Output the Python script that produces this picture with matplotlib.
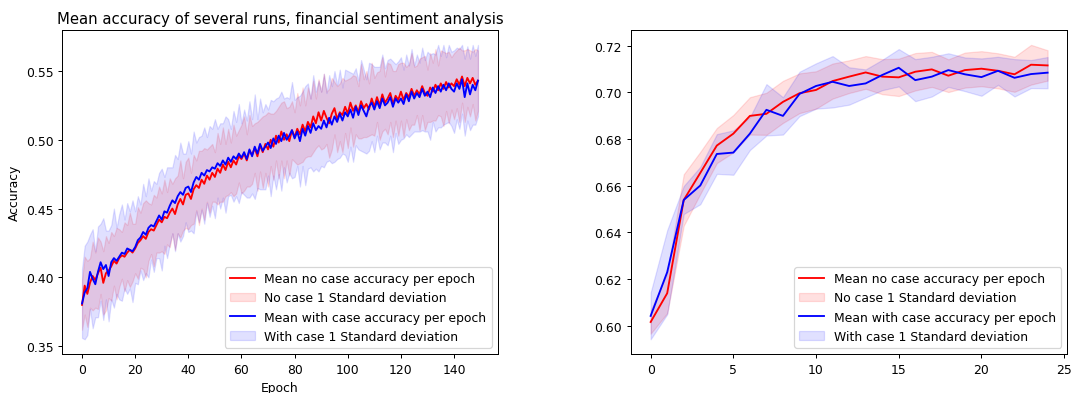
import matplotlib
matplotlib.use("Agg")
from matplotlib import pyplot as plt
import numpy as np

# left panel: 150 epochs
no_case_mean = [
    0.380, 0.394, 0.388, 0.396, 0.401, 0.398, 0.403, 0.407, 0.396, 0.403,
    0.405, 0.408, 0.412, 0.410, 0.414, 0.416, 0.415, 0.418, 0.420, 0.418,
    0.421, 0.425, 0.427, 0.430, 0.428, 0.433, 0.435, 0.434, 0.438, 0.442,
    0.440, 0.444, 0.443, 0.447, 0.450, 0.446, 0.453, 0.457, 0.453, 0.460,
    0.461, 0.457, 0.464, 0.467, 0.465, 0.471, 0.468, 0.474, 0.471, 0.476,
    0.473, 0.479, 0.476, 0.482, 0.478, 0.484, 0.480, 0.485, 0.482, 0.488,
    0.486, 0.490, 0.485, 0.492, 0.489, 0.494, 0.488, 0.496, 0.491, 0.497,
    0.493, 0.500, 0.495, 0.503, 0.498, 0.506, 0.500, 0.504, 0.499, 0.507,
    0.502, 0.508, 0.504, 0.511, 0.506, 0.513, 0.509, 0.517, 0.512, 0.520,
    0.514, 0.521, 0.516, 0.512, 0.519, 0.523, 0.515, 0.520, 0.518, 0.524,
    0.519, 0.527, 0.521, 0.525, 0.520, 0.528, 0.523, 0.526, 0.522, 0.530,
    0.524, 0.531, 0.525, 0.533, 0.527, 0.530, 0.534, 0.526, 0.532, 0.529,
    0.535, 0.529, 0.534, 0.531, 0.537, 0.532, 0.536, 0.533, 0.539, 0.534,
    0.532, 0.538, 0.535, 0.540, 0.536, 0.541, 0.537, 0.542, 0.538, 0.541,
    0.539, 0.544, 0.540, 0.546, 0.539, 0.545, 0.541, 0.545, 0.540, 0.543,
]
no_case_std = [
    0.018, 0.021, 0.024, 0.018, 0.025, 0.020, 0.026, 0.019, 0.023, 0.027,
    0.020, 0.025, 0.018, 0.026, 0.021, 0.017, 0.025, 0.020, 0.027, 0.021,
    0.018, 0.026, 0.020, 0.024, 0.028, 0.021, 0.018, 0.026, 0.020, 0.024,
    0.021, 0.027, 0.019, 0.025, 0.018, 0.026, 0.021, 0.028, 0.019, 0.024,
    0.026, 0.019, 0.025, 0.018, 0.027, 0.021, 0.026, 0.019, 0.024, 0.021,
    0.018, 0.026, 0.021, 0.027, 0.019, 0.024, 0.018, 0.026, 0.021, 0.019,
    0.025, 0.027, 0.019, 0.026, 0.021, 0.018, 0.025, 0.019, 0.026, 0.021,
    0.027, 0.019, 0.024, 0.018, 0.026, 0.021, 0.028, 0.019, 0.025, 0.021,
    0.018, 0.026, 0.021, 0.027, 0.019, 0.025, 0.021, 0.026, 0.018, 0.024,
    0.021, 0.027, 0.019, 0.025, 0.026, 0.019, 0.024, 0.021, 0.027, 0.019,
    0.025, 0.018, 0.026, 0.021, 0.019, 0.027, 0.021, 0.024, 0.019, 0.026,
    0.021, 0.018, 0.025, 0.027, 0.019, 0.026, 0.021, 0.024, 0.018, 0.026,
    0.021, 0.027, 0.019, 0.024, 0.026, 0.021, 0.018, 0.026, 0.021, 0.027,
    0.019, 0.025, 0.021, 0.026, 0.018, 0.024, 0.027, 0.021, 0.026, 0.019,
    0.024, 0.021, 0.027, 0.019, 0.026, 0.021, 0.024, 0.019, 0.026, 0.022,
]
with_case_mean = [
    0.381, 0.389, 0.392, 0.404, 0.399, 0.395, 0.404, 0.411, 0.406, 0.409,
    0.401, 0.411, 0.414, 0.412, 0.415, 0.418, 0.417, 0.421, 0.420, 0.419,
    0.422, 0.427, 0.429, 0.433, 0.431, 0.436, 0.438, 0.437, 0.441, 0.445,
    0.442, 0.448, 0.447, 0.452, 0.456, 0.454, 0.459, 0.462, 0.460, 0.465,
    0.466, 0.462, 0.469, 0.473, 0.471, 0.476, 0.474, 0.478, 0.477, 0.480,
    0.479, 0.483, 0.481, 0.485, 0.482, 0.487, 0.484, 0.488, 0.486, 0.490,
    0.487, 0.491, 0.486, 0.493, 0.488, 0.495, 0.490, 0.497, 0.492, 0.495,
    0.498, 0.494, 0.501, 0.497, 0.503, 0.499, 0.505, 0.500, 0.503, 0.507,
    0.501, 0.506, 0.499, 0.508, 0.503, 0.510, 0.505, 0.512, 0.507, 0.510,
    0.508, 0.514, 0.509, 0.516, 0.511, 0.517, 0.513, 0.519, 0.514, 0.520,
    0.517, 0.522, 0.516, 0.524, 0.518, 0.525, 0.521, 0.517, 0.524, 0.527,
    0.522, 0.528, 0.523, 0.530, 0.525, 0.527, 0.531, 0.524, 0.530, 0.527,
    0.530, 0.526, 0.533, 0.528, 0.535, 0.530, 0.534, 0.531, 0.537, 0.532,
    0.535, 0.531, 0.538, 0.534, 0.539, 0.535, 0.540, 0.536, 0.541, 0.537,
    0.535, 0.541, 0.537, 0.544, 0.531, 0.541, 0.533, 0.540, 0.536, 0.543,
]
with_case_std = [
    0.025, 0.034, 0.034, 0.027, 0.036, 0.024, 0.033, 0.028, 0.037, 0.025,
    0.033, 0.027, 0.036, 0.024, 0.031, 0.035, 0.025, 0.033, 0.028, 0.037,
    0.026, 0.032, 0.024, 0.035, 0.028, 0.036, 0.025, 0.033, 0.027, 0.031,
    0.037, 0.025, 0.033, 0.028, 0.024, 0.035, 0.027, 0.036, 0.030, 0.025,
    0.033, 0.028, 0.037, 0.025, 0.031, 0.027, 0.035, 0.024, 0.033, 0.028,
    0.036, 0.025, 0.031, 0.027, 0.035, 0.028, 0.024, 0.033, 0.027, 0.036,
    0.025, 0.031, 0.028, 0.035, 0.027, 0.038, 0.025, 0.033, 0.028, 0.031,
    0.024, 0.035, 0.027, 0.033, 0.028, 0.036, 0.025, 0.031, 0.027, 0.035,
    0.028, 0.025, 0.033, 0.027, 0.036, 0.031, 0.025, 0.035, 0.028, 0.033,
    0.027, 0.034, 0.025, 0.031, 0.028, 0.033, 0.027, 0.032, 0.024, 0.031,
    0.033, 0.027, 0.032, 0.028, 0.025, 0.033, 0.030, 0.027, 0.032, 0.028,
    0.031, 0.025, 0.030, 0.032, 0.027, 0.031, 0.028, 0.033, 0.025, 0.030,
    0.030, 0.025, 0.029, 0.026, 0.031, 0.024, 0.028, 0.025, 0.030, 0.026,
    0.029, 0.031, 0.025, 0.028, 0.030, 0.026, 0.029, 0.024, 0.028, 0.027,
    0.030, 0.026, 0.029, 0.025, 0.028, 0.027, 0.026, 0.029, 0.025, 0.026,
]

# right panel: 25 epochs
r_no_case_mean = [0.6017, 0.614, 0.6539, 0.6655, 0.6772, 0.6823, 0.6899, 0.6908, 0.6959,
                  0.6996, 0.7010, 0.7048, 0.7067, 0.7085, 0.7067, 0.7064, 0.7088, 0.7098,
                  0.7071, 0.7095, 0.7101, 0.7092, 0.7077, 0.7118, 0.7115]
r_no_case_std = [0.005, 0.0085, 0.011, 0.009, 0.0075, 0.008, 0.008, 0.009, 0.009, 0.0085,
                 0.008, 0.0075, 0.007, 0.007, 0.0075, 0.008, 0.008, 0.0075, 0.007, 0.0075,
                 0.0075, 0.0075, 0.0075, 0.0085, 0.0065]
r_with_case_mean = [0.6043, 0.623, 0.6539, 0.6601, 0.6736, 0.6742, 0.6823, 0.6925, 0.6899,
                    0.6993, 0.7027, 0.7045, 0.7027, 0.7038, 0.7074, 0.7105, 0.7052, 0.7067,
                    0.7095, 0.7077, 0.7065, 0.7092, 0.7062, 0.7078, 0.7084]
r_with_case_std = [0.010, 0.018, 0.006, 0.008, 0.0085, 0.0095, 0.007, 0.011, 0.008, 0.0095,
                   0.0097, 0.011, 0.008, 0.006, 0.0065, 0.008, 0.009, 0.0085, 0.0072, 0.0072,
                   0.008, 0.006, 0.008, 0.006, 0.0067]


def draw_panel(ax, m1, s1, m2, s2):
    x = np.arange(len(m1))
    m1, s1, m2, s2 = map(np.array, (m1, s1, m2, s2))
    ax.plot(x, m1, color="red", label="Mean no case accuracy per epoch")
    ax.fill_between(x, m1 - s1, m1 + s1, color="red", alpha=0.12,
                    label="No case 1 Standard deviation")
    ax.plot(x, m2, color="blue", label="Mean with case accuracy per epoch")
    ax.fill_between(x, m2 - s2, m2 + s2, color="blue", alpha=0.12,
                    label="With case 1 Standard deviation")
    ax.legend(loc="lower right")


# original figure was larger and scaled down, so use a lower dpi
fig = plt.figure(figsize=(12, 4.407), dpi=89.4)
ax1 = fig.add_axes([0.058, 0.099, 0.406, 0.822])
ax2 = fig.add_axes([0.588, 0.099, 0.407, 0.822])

draw_panel(ax1, no_case_mean, no_case_std, with_case_mean, with_case_std)
ax1.set_title("Mean accuracy of several runs, financial sentiment analysis")
ax1.set_xlabel("Epoch")
ax1.set_ylabel("Accuracy")

draw_panel(ax2, r_no_case_mean, r_no_case_std, r_with_case_mean, r_with_case_std)

fig.savefig("out.png", dpi=89.4)
